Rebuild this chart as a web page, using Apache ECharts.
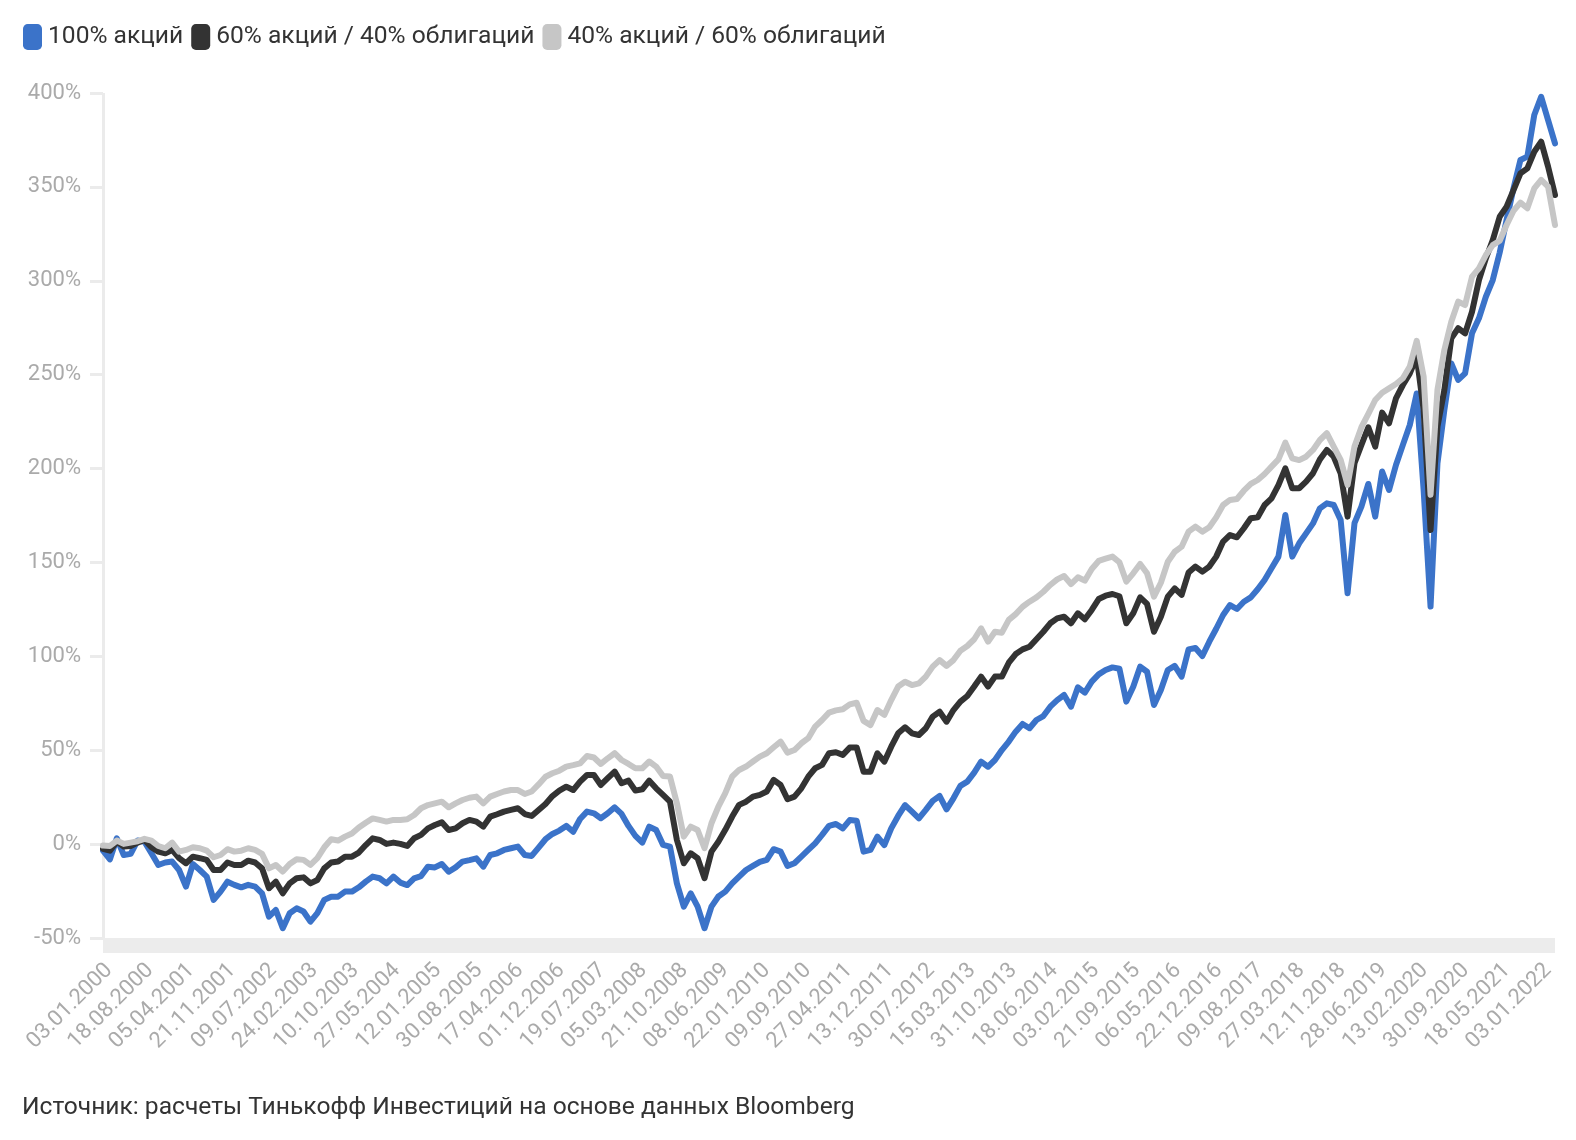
<!DOCTYPE html>
<html><head><meta charset="utf-8">
<script src="https://cdn.jsdelivr.net/npm/echarts@6/dist/echarts.min.js"></script>
<style>html,body{margin:0;padding:0;background:#fff}#c{width:1576px;height:1140px}</style>
</head><body><div id="c"></div>
<script>
const FONT = "Roboto, 'Noto Sans', sans-serif";
const seriesNames = ['100% акций', '60% акций / 40% облигаций', '40% акций / 60% облигаций'];
const tickLabels = ['03.01.2000','18.08.2000','05.04.2001','21.11.2001','09.07.2002','24.02.2003','10.10.2003','27.05.2004','12.01.2005','30.08.2005','17.04.2006','01.12.2006','19.07.2007','05.03.2008','21.10.2008','08.06.2009','22.01.2010','09.09.2010','27.04.2011','13.12.2011','30.07.2012','15.03.2013','31.10.2013','18.06.2014','03.02.2015','21.09.2015','06.05.2016','22.12.2016','09.08.2017','27.03.2018','12.11.2018','28.06.2019','13.02.2020','30.09.2020','18.05.2021','03.01.2022'];
const yMin = -50, yMax = 400, yStep = 50;

const stocks100 = [
-3.5,-8.1,3.1,-5.8,-5.2,1.9,1.3,-4.9,-11.1,-9.8,
-9.3,-13.8,-22.6,-10.6,-13.8,-17.3,-29.7,-25.3,-20.0,-21.7,
-23.0,-21.7,-22.6,-26.2,-38.6,-35.1,-44.8,-36.8,-34.2,-35.9,
-41.3,-36.8,-29.7,-28.0,-28.0,-25.3,-25.3,-23.0,-20.0,-17.3,
-18.2,-20.9,-17.3,-20.5,-21.8,-18.2,-17.0,-12.0,-12.4,-10.6,
-14.7,-12.4,-9.3,-8.5,-7.6,-12.0,-5.8,-4.9,-3.1,-2.2,
-1.3,-5.8,-6.3,-1.9,2.6,5.4,7.2,9.7,6.6,13.4,
17.3,16.4,13.8,16.4,19.6,16.1,9.7,4.4,0.8,9.3,
7.5,-0.4,-1.3,-20.9,-33.3,-26.2,-33.3,-44.8,-33.3,-27.9,
-25.3,-20.9,-17.3,-13.8,-11.6,-9.5,-8.4,-2.7,-4.0,-11.6,
-10.2,-6.7,-3.1,0.4,4.9,9.7,10.7,8.4,12.8,12.5,
-4.0,-3.1,4.0,-0.5,8.4,15.0,20.8,17.3,13.7,18.2,
23.0,25.6,18.5,24.4,31.0,33.3,38.1,43.9,41.2,44.8,
50.1,54.6,59.9,64.0,61.7,66.1,68.2,73.2,76.7,79.4,
73.2,83.5,80.7,86.5,90.4,92.7,94.1,93.4,75.9,83.8,
94.5,91.8,74.1,82.1,92.7,94.9,89.2,103.7,104.4,100.2,
107.8,114.7,122.0,127.3,125.2,129.1,131.4,135.7,140.7,146.9,
153.1,175.3,153.1,160.2,165.5,170.8,178.8,181.5,180.6,172.6,
133.6,170.9,179.7,191.8,174.4,198.4,188.6,201.9,212.6,223.2,
240.0,188.6,126.5,202.8,231.2,256.0,247.2,250.7,272.0,280.0,
291.5,300.4,315.0,332.4,349.2,364.3,366.1,388.3,398.0,385.6,373.2
];
const mix6040 = [
-2.5,-3.5,1.3,-1.3,-1.0,0.8,2.2,-1.7,-4.0,-4.9,
-3.1,-7.5,-10.2,-6.7,-7.5,-8.4,-13.8,-13.8,-9.8,-11.1,
-11.1,-8.8,-9.8,-12.9,-23.5,-20.0,-26.2,-20.9,-18.2,-17.7,
-20.9,-19.1,-12.9,-9.8,-9.3,-6.7,-6.7,-4.5,-0.5,3.1,
2.2,0.1,0.8,0.1,-1.0,3.1,4.9,8.4,10.2,11.6,
7.5,8.4,11.1,12.9,12.0,9.3,14.6,15.9,17.3,18.2,
19.1,16.0,15.0,18.2,21.4,25.6,28.5,30.6,28.8,33.3,
36.8,36.8,31.5,35.1,38.6,32.4,33.8,28.5,29.2,33.8,
29.7,26.2,22.6,2.2,-10.2,-4.9,-7.5,-18.2,-4.0,1.3,
7.6,14.7,20.9,22.6,25.3,26.2,28.0,34.2,31.5,23.9,
25.3,29.7,35.9,40.4,42.2,48.4,48.9,47.5,51.4,51.5,
38.6,38.6,48.3,43.9,51.9,59.0,62.2,59.0,58.1,61.7,
67.9,70.5,65.2,71.4,75.9,78.9,83.9,89.2,83.9,89.2,
89.2,96.6,101.2,103.7,105.1,109.1,113.1,117.6,120.2,121.1,
117.6,122.9,119.7,124.7,130.5,132.3,133.2,132.0,117.6,122.9,
131.4,127.9,113.1,121.1,131.8,136.2,132.7,144.6,147.8,145.1,
147.8,153.1,161.1,164.6,163.4,168.2,173.5,174.0,180.6,184.1,
191.2,200.1,189.5,189.5,193.0,197.5,204.9,209.9,206.3,197.5,
174.4,202.8,212.6,222.0,211.7,229.8,224.1,237.4,244.5,250.7,
259.6,231.2,167.3,222.3,241.9,269.3,274.7,272.0,283.5,300.4,
311.9,321.7,334.1,339.5,348.3,357.2,359.9,368.7,374.1,360.8,345.7
];
const mix4060 = [
-0.8,-1.0,1.9,0.1,0.8,1.5,2.8,1.9,-1.0,-2.2,
0.8,-4.0,-3.1,-1.7,-2.2,-3.5,-7.0,-5.8,-2.7,-4.0,
-3.5,-2.2,-3.1,-5.2,-12.9,-11.1,-14.6,-10.6,-8.1,-8.4,
-11.1,-7.5,-1.7,2.6,1.9,4.0,5.7,8.9,11.4,13.7,
12.9,12.0,12.9,12.9,13.2,15.5,19.1,20.8,21.7,22.6,
19.6,21.7,23.5,24.7,25.3,21.7,25.3,26.7,28.0,28.8,
28.8,26.7,28.0,31.8,35.9,37.7,39.1,41.3,42.1,43.0,
46.9,46.1,42.7,45.7,48.4,44.8,42.7,40.4,40.4,44.0,
41.3,36.3,36.0,21.8,4.0,9.3,7.5,-2.2,11.1,20.0,
27.1,36.0,39.5,41.3,44.0,46.6,48.4,51.6,54.6,48.7,
50.1,53.7,56.4,62.6,66.1,70.0,71.2,71.8,74.4,75.3,
65.6,63.4,71.4,68.8,76.7,83.9,86.5,84.7,85.6,89.2,
94.5,98.0,94.9,98.0,103.0,105.5,109.1,114.9,107.8,113.1,
112.6,119.4,122.5,126.4,129.1,131.4,134.4,138.0,141.0,142.8,
138.5,142.1,140.3,146.5,150.8,152.0,153.1,150.1,139.8,144.2,
149.2,144.2,131.8,139.2,150.4,155.7,158.4,166.4,169.1,166.4,
168.7,174.0,180.6,183.3,183.8,188.2,191.8,193.9,197.1,201.0,
204.9,213.8,205.4,204.5,206.3,209.9,215.2,218.8,211.7,204.6,
191.3,211.7,222.0,229.1,236.5,240.4,242.7,245.0,248.1,254.3,
268.0,249.0,186.0,241.9,263.2,278.2,288.9,287.1,302.2,306.6,
313.7,319.0,321.3,329.7,337.3,341.6,338.6,349.2,353.7,350.1,329.7
];

// sample dates (category names) from 03.01.2000 to ~10.03.2022
const t0 = Date.UTC(2000, 0, 3), t1 = Date.UTC(2022, 2, 10);
const pad = n => (n < 10 ? '0' : '') + n;
const sampleDates = stocks100.map((_, i) => {
  const d = new Date(t0 + (t1 - t0) * i / (stocks100.length - 1));
  return pad(d.getUTCDate()) + '.' + pad(d.getUTCMonth() + 1) + '.' + d.getUTCFullYear();
});

const colors = ['#3b73c9', '#333333', '#c6c6c6'];
const chart = echarts.init(document.getElementById('c'), null, {renderer: 'canvas'});
const mk = (name, data, color) => ({
  name, type: 'line', data, xAxisIndex: 0, yAxisIndex: 0,
  showSymbol: false, symbol: 'none', smooth: false,
  lineStyle: {width: 6, color, join: 'round', cap: 'round'},
  itemStyle: {color}, emphasis: {disabled: true}
});
chart.setOption({
  animation: false,
  backgroundColor: '#ffffff',
  textStyle: {fontFamily: FONT},
  legend: {
    left: 18, top: 19, icon: 'roundRect', itemWidth: 19, itemHeight: 26, itemGap: 8,
    textStyle: {fontSize: 24.6, color: '#333333', fontFamily: FONT, padding: [0, 0, 0, 1]},
    data: seriesNames, selectedMode: false
  },
  grid: [
    {left: 103, right: 21, top: 93, bottom: 202},
    {left: 109, right: 28, top: 93, bottom: 202}
  ],
  xAxis: [
    {type: 'category', gridIndex: 0, data: sampleDates, boundaryGap: false, offset: 7,
     axisLine: {show: true, onZero: false, lineStyle: {color: '#ececec', width: 15, cap: 'butt'}},
     axisTick: {show: false}, axisLabel: {show: false}, splitLine: {show: false}},
    {type: 'category', gridIndex: 1, data: tickLabels, boundaryGap: false,
     axisLine: {show: false, onZero: false}, axisTick: {show: false}, splitLine: {show: false},
     axisLabel: {interval: 0, rotate: 45, color: '#aaaaaa', fontSize: 22, fontFamily: FONT, margin: 29}}
  ],
  yAxis: [
    {type: 'value', gridIndex: 0, min: yMin, max: yMax, interval: yStep,
     axisLine: {show: true, lineStyle: {color: '#ebebeb', width: 3, cap: 'butt'}},
     axisTick: {show: true, length: 13, lineStyle: {color: '#ebebeb', width: 3}},
     splitLine: {show: false},
     axisLabel: {formatter: '{value}%', color: '#aaaaaa', fontSize: 22, fontFamily: FONT, margin: 22}},
    {type: 'value', gridIndex: 1, min: yMin, max: yMax, show: false}
  ],
  series: [
    mk(seriesNames[0], stocks100, colors[0]),
    mk(seriesNames[1], mix6040, colors[1]),
    mk(seriesNames[2], mix4060, colors[2])
  ],
  graphic: [{
    type: 'text', left: 22, top: 1095,
    style: {text: 'Источник: расчеты Тинькофф Инвестиций на основе данных Bloomberg',
            font: '24.6px ' + FONT, fill: '#333333'}
  }]
});
</script></body></html>
